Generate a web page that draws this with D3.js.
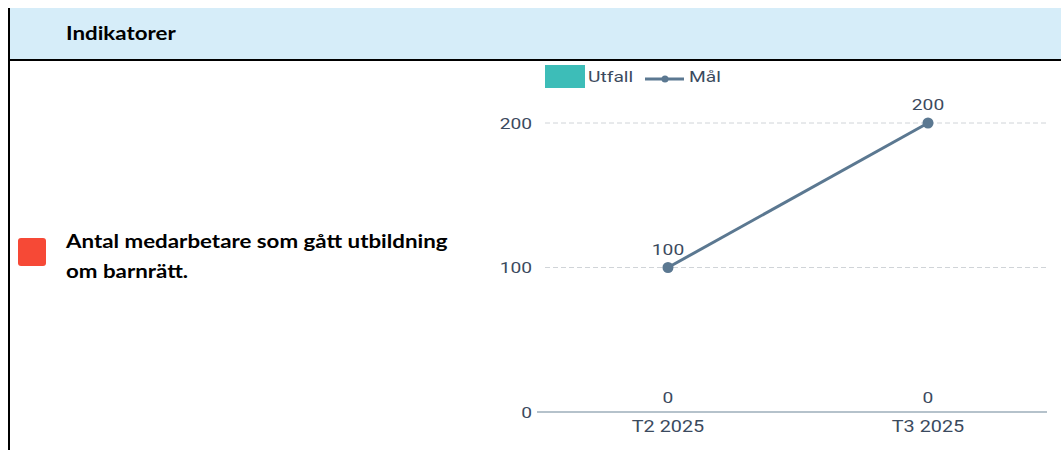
<!DOCTYPE html>
<html>
<head>
<meta charset="utf-8">
<script src="https://cdn.jsdelivr.net/npm/d3@7"></script>
<style>
  body { margin: 0; background: #fff; }
  svg { display: block; }
</style>
</head>
<body>
<div id="chart"></div>
<script>
const categories = ['T2 2025', 'T3 2025']
const utfall = [0, 0]
const mal = [100, 200]
const yTicks = [0, 100, 200]

const svg = d3.select('#chart')
  .append('svg')
  .attr('width', 1061)
  .attr('height', 450)

// text in the picture is stretched sideways, so widen it a bit
const stretch = 1.24
const placeText = (sel, x, y) => sel
  .attr('transform', (d, i) => `translate(${typeof x === 'function' ? x(d, i) : x}, ${typeof y === 'function' ? y(d, i) : y}) scale(${stretch}, 1)`)

// Table frame
svg.append('rect')
  .attr('x', 8).attr('y', 8)
  .attr('width', 1053).attr('height', 51)
  .attr('fill', '#d6edf9')
svg.append('line')
  .attr('x1', 8).attr('x2', 1061).attr('y1', 60).attr('y2', 60)
  .attr('stroke', '#000').attr('stroke-width', 2)
svg.append('line')
  .attr('x1', 9).attr('x2', 9).attr('y1', 8).attr('y2', 450)
  .attr('stroke', '#000').attr('stroke-width', 2)

svg.append('text')
  .call(placeText, 66, 40)
  .style('font-family', 'Lato, "Open Sans", sans-serif')
  .style('font-weight', 'bold')
  .style('font-size', '18px')
  .attr('fill', '#000')
  .text('Indikatorer')

svg.append('rect')
  .attr('x', 18).attr('y', 238)
  .attr('width', 28).attr('height', 28)
  .attr('rx', 3)
  .attr('fill', '#f64936')

const descLines = ['Antal medarbetare som gått utbildning', 'om barnrätt.']
svg.append('g')
  .selectAll('text')
  .data(descLines)
  .join('text')
  .call(placeText, 66, (d, i) => 248 + i * 30)
  .style('font-family', 'Lato, "Open Sans", sans-serif')
  .style('font-weight', 'bold')
  .style('font-size', '18px')
  .attr('fill', '#000')
  .text(d => d)

// Chart
const font = 'Roboto, sans-serif'
const fontSize = '15.5px'
const textColor = '#3b4a5e'

const xScale = d3.scaleBand()
  .domain(categories)
  .range([538, 1058])

const yScale = d3.scaleLinear()
  .domain([0, 200])
  .range([412, 123])

const grid = svg.append('g')
grid.selectAll('line')
  .data(yTicks.filter(d => d > 0))
  .join('line')
  .attr('x1', 545).attr('x2', 1047)
  .attr('y1', d => yScale(d)).attr('y2', d => yScale(d))
  .attr('stroke', '#d0d4d8')
  .attr('stroke-dasharray', '5,3')

svg.append('line')
  .attr('x1', 537).attr('x2', 1047)
  .attr('y1', yScale(0)).attr('y2', yScale(0))
  .attr('stroke', '#b5c2cb').attr('stroke-width', 2)

svg.append('g')
  .selectAll('text')
  .data(yTicks)
  .join('text')
  .call(placeText, 532, d => yScale(d) + 5.5)
  .attr('text-anchor', 'end')
  .style('font-family', font)
  .style('font-size', fontSize)
  .attr('fill', textColor)
  .text(d => d)

const center = d => xScale(d) + xScale.bandwidth() / 2

svg.append('g')
  .selectAll('text')
  .data(categories)
  .join('text')
  .call(placeText, center, 432)
  .attr('text-anchor', 'middle')
  .style('font-family', font)
  .style('font-size', '16px')
  .attr('fill', textColor)
  .text(d => d)

// Utfall bars (zero) and labels
svg.append('g')
  .selectAll('rect')
  .data(utfall)
  .join('rect')
  .attr('x', (d, i) => center(categories[i]) - 40)
  .attr('y', d => yScale(d))
  .attr('width', 80)
  .attr('height', d => yScale(0) - yScale(d))
  .attr('fill', '#3dbdb8')

svg.append('g')
  .selectAll('text')
  .data(utfall)
  .join('text')
  .call(placeText, (d, i) => center(categories[i]), d => yScale(d) - 9)
  .attr('text-anchor', 'middle')
  .style('font-family', font)
  .style('font-size', fontSize)
  .attr('fill', textColor)
  .text(d => d)

// Mål line
const lineColor = '#5b7891'
const line = d3.line()
  .x((d, i) => center(categories[i]))
  .y(d => yScale(d))

svg.append('path')
  .datum(mal)
  .attr('d', line)
  .attr('fill', 'none')
  .attr('stroke', lineColor)
  .attr('stroke-width', 3)

svg.append('g')
  .selectAll('circle')
  .data(mal)
  .join('circle')
  .attr('cx', (d, i) => center(categories[i]))
  .attr('cy', d => yScale(d))
  .attr('r', 5.5)
  .attr('fill', lineColor)

svg.append('g')
  .selectAll('text')
  .data(mal)
  .join('text')
  .call(placeText, (d, i) => center(categories[i]), d => yScale(d) - 13)
  .attr('text-anchor', 'middle')
  .style('font-family', font)
  .style('font-size', fontSize)
  .attr('fill', textColor)
  .text(d => d)

// Legend
const legend = svg.append('g')
legend.append('rect')
  .attr('x', 545).attr('y', 65)
  .attr('width', 40).attr('height', 23)
  .attr('fill', '#3dbdb8')
legend.append('text')
  .call(placeText, 588, 82)
  .style('font-family', font)
  .style('font-size', fontSize)
  .attr('fill', textColor)
  .text('Utfall')
legend.append('line')
  .attr('x1', 645).attr('x2', 684).attr('y1', 79).attr('y2', 79)
  .attr('stroke', lineColor).attr('stroke-width', 3)
legend.append('circle')
  .attr('cx', 665).attr('cy', 79).attr('r', 3.5)
  .attr('fill', lineColor)
legend.append('text')
  .call(placeText, 689, 82)
  .style('font-family', font)
  .style('font-size', fontSize)
  .attr('fill', textColor)
  .text('Mål')
</script>
</body>
</html>
